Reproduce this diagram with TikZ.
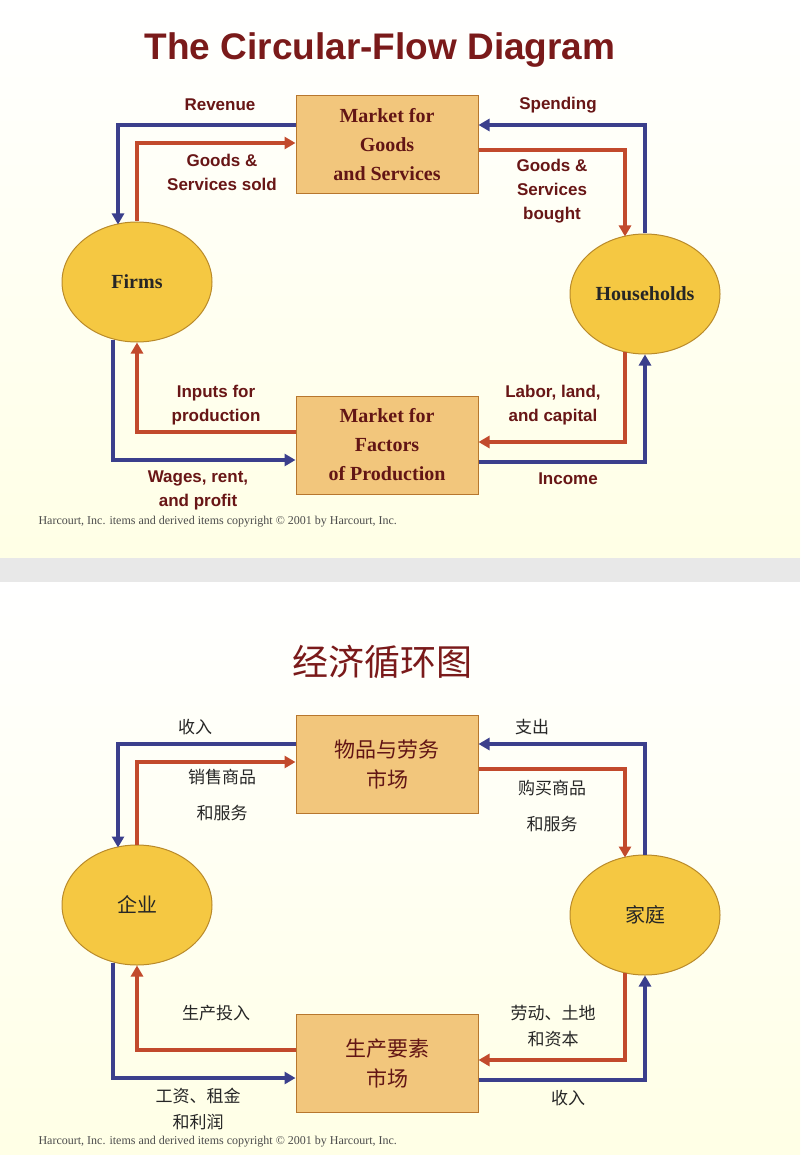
\documentclass[tikz,border=0pt]{standalone}
\usepackage{fontspec}
\setmainfont{Liberation Serif}
\setsansfont{Liberation Sans}
\newfontfamily\cjk{Noto Sans CJK SC}
\usetikzlibrary{arrows.meta,shapes.geometric}
\definecolor{rd}{HTML}{C24A2C}
\definecolor{bl}{HTML}{3B3F8C}
\definecolor{ttl}{HTML}{7A1A1A}
\definecolor{boxf}{HTML}{F2C67C}
\definecolor{boxd}{HTML}{B7772E}
\definecolor{ellf}{HTML}{F5C842}
\definecolor{elld}{HTML}{B98A2A}
\tikzset{
 box/.style={draw=boxd,fill=boxf,line width=1pt,minimum width=182pt,minimum height=98pt,align=center,font=\fontsize{20}{29}\selectfont\bfseries,text=ttl!80!black},
 ell/.style={ellipse,draw=elld,fill=ellf,line width=1pt,inner sep=0pt,minimum width=150pt,minimum height=120pt,font=\fontsize{20}{22}\selectfont\bfseries,text=black!85},
 lab/.style={align=center,font=\fontsize{17}{24}\selectfont\bfseries\sffamily,text=ttl!85!black},
 clab/.style={align=center,font=\fontsize{17}{36}\selectfont\cjk,text=black!85},
 cbox/.style={box,font=\fontsize{21}{30}\selectfont\cjk},
 cell/.style={ell,font=\fontsize{20}{22}\selectfont\cjk},
 ar/.style={line width=3.4pt,-{Triangle[length=11pt,width=12pt]}},
 R/.style={ar,draw=rd}, B/.style={ar,draw=bl},
 copy/.style={font=\fontsize{12}{13}\selectfont,text=black!70,anchor=west}
}
\newcommand\arrs[1]{%
 \draw[B] ([yshift=20pt]g#1.west) -| ([xshift=-19pt,yshift=-3pt]firm#1.north);
 \draw[R] (firm#1.north) |- ([yshift=2pt]g#1.west);
 \draw[B] (hh#1.north) |- ([yshift=20pt]g#1.east);
 \draw[R] ([yshift=-5pt]g#1.east) -| ([xshift=-20pt,yshift=-3pt]hh#1.north);
 \draw[R] ([yshift=13pt]f#1.west) -| (firm#1.south);
 \draw[B] ([xshift=-24pt,yshift=3pt]firm#1.south) |- ([yshift=-15pt]f#1.west);
 \draw[R] ([xshift=-20pt,yshift=3pt]hh#1.south) |- ([yshift=3pt]f#1.east);
 \draw[B] ([yshift=-17pt]f#1.east) -| (hh#1.south);}
\begin{document}
\begin{tikzpicture}[x=1pt,y=-1pt]
\useasboundingbox (0,0) rectangle (800,1155);
\shade[top color=white,bottom color=yellow!10] (0,0) rectangle (800,558);
\fill[black!9] (0,558) rectangle (800,582);
\shade[top color=white,bottom color=yellow!10] (0,582) rectangle (800,1155);
% top panel
\node[text=ttl,font=\fontsize{37}{40}\selectfont\bfseries\sffamily] (tA) at (380,50) {The Circular-Flow Diagram};
\node[box] (gA) at (387,145) {Market for\\Goods\\and Services};
\node[box] (fA) at (387,445) {Market for\\Factors\\of Production};
\node[ell] (firmA) at (137,282) {Firms};
\node[ell] (hhA) at (645,294) {Households};
\arrs{A}
\node[lab] (l1) at (220,105) {Revenue};
\node[lab] (l2) at (222,172) {Goods \&\\Services sold};
\node[lab] (l3) at (558,105) {Spending};
\node[lab] (l4) at (552,191) {Goods \&\\Services\\bought};
\node[lab] (l5) at (216,405) {Inputs for\\production};
\node[lab] (l6) at (553,405) {Labor, land,\\and capital};
\node[lab] (l7) at (198,490) {Wages, rent,\\and profit};
\node[lab] (l8) at (568,479) {Income};
\node[copy] (c1) at (35,522) {Harcourt, Inc. items and derived items copyright \copyright{} 2001 by Harcourt, Inc.};
% bottom panel
\node[text=ttl,font=\fontsize{36}{40}\selectfont\cjk] (tB) at (382,662) {经济循环图};
\node[cbox] (gB) at (387,764) {物品与劳务\\市场};
\node[cbox] (fB) at (387,1063) {生产要素\\市场};
\node[cell] (firmB) at (137,905) {企业};
\node[cell] (hhB) at (645,915) {家庭};
\arrs{B}
\node[clab] (m1) at (195,727) {收入};
\node[clab] (m2) at (222,795) {销售商品\\和服务};
\node[clab] (m3) at (532,727) {支出};
\node[clab] (m4) at (552,806) {购买商品\\和服务};
\node[clab] (m5) at (216,1013) {生产投入};
\node[lab,font=\fontsize{17}{26}\selectfont\cjk,text=black!85] (m6) at (553,1026) {劳动、土地\\和资本};
\node[lab,font=\fontsize{17}{26}\selectfont\cjk,text=black!85] (m7) at (198,1109) {工资、租金\\和利润};
\node[clab] (m8) at (568,1098) {收入};
\node[copy] (c2) at (35,1142) {Harcourt, Inc. items and derived items copyright \copyright{} 2001 by Harcourt, Inc.};
\end{tikzpicture}
\end{document}
